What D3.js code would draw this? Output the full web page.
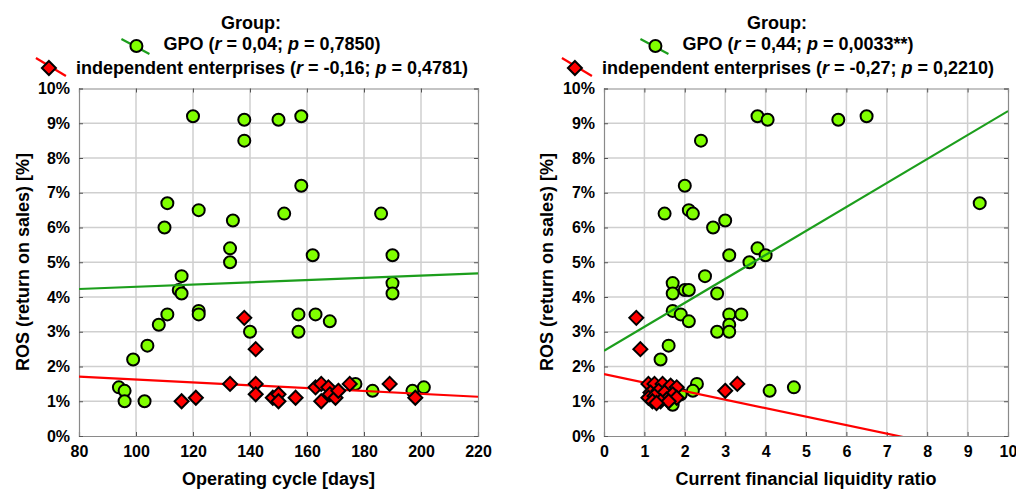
<!DOCTYPE html>
<html>
<head>
<meta charset="utf-8">
<script src="https://cdn.jsdelivr.net/npm/d3@7/dist/d3.min.js"></script>
<style>
  body { margin: 0; background: #fff; }
  svg text { font-family: "Liberation Sans", Arial, sans-serif; font-weight: bold; fill: #000; }
</style>
</head>
<body>
<div id="chart"></div>
<script>
// left panel: operating cycle [days] vs ROS [%]
const gpoCycle = [120, 138, 150, 158, 138, 158, 111, 122, 152, 110, 134, 186, 133, 133, 162, 190, 190, 190,
  116, 115, 116, 122, 122, 111, 108, 140, 157, 157, 163, 168, 104, 99, 94, 96, 96, 103, 177, 183, 197, 201];
const gpoCycleRos = [9.2, 9.1, 9.1, 9.2, 8.5, 7.2, 6.7, 6.5, 6.4, 6.0, 6.2, 6.4, 5.4, 5.0, 5.2, 5.2, 4.4, 4.1,
  4.6, 4.2, 4.1, 3.6, 3.5, 3.5, 3.2, 3.0, 3.5, 3.0, 3.5, 3.3, 2.6, 2.2, 1.4, 1.3, 1.0, 1.0, 1.5, 1.3, 1.3, 1.4];
const indCycle = [116, 121, 138, 142, 133, 142, 142, 148, 150, 150, 156, 163, 165, 165, 167.5, 168, 170, 171, 175, 189, 198];
const indCycleRos = [1.0, 1.1, 3.4, 2.5, 1.5, 1.5, 1.2, 1.1, 1.2, 1.0, 1.1, 1.4, 1.5, 1.0, 1.4, 1.2, 1.1, 1.3, 1.5, 1.5, 1.1];

// right panel: current financial liquidity ratio vs ROS [%]
const gpoLiq = [3.8, 4.05, 5.8, 6.5, 2.4, 2.0, 1.5, 2.1, 2.2, 3.0, 2.7, 9.3, 3.1, 3.8, 4.0, 3.6, 2.5, 1.7, 1.7, 2.0,
  2.1, 2.8, 1.7, 1.9, 2.1, 3.1, 3.4, 3.1, 3.1, 2.8, 1.6, 1.4, 2.3, 2.2, 4.1, 4.7, 1.7, 1.8, 1.5, 1.9];
const gpoLiqRos = [9.2, 9.1, 9.1, 9.2, 8.5, 7.2, 6.4, 6.5, 6.4, 6.2, 6.0, 6.7, 5.2, 5.4, 5.2, 5.0, 4.6, 4.4, 4.1, 4.2,
  4.2, 4.1, 3.6, 3.5, 3.3, 3.5, 3.5, 3.2, 3.0, 3.0, 2.6, 2.2, 1.5, 1.3, 1.3, 1.4, 0.9, 1.3, 1.4, 1.2];
const indLiq = [0.8, 0.9, 3.0, 3.3, 1.1, 1.25, 1.45, 1.65, 1.8, 1.15, 1.35, 1.5, 1.7, 1.1, 1.25, 1.55, 1.8, 1.2, 1.4, 1.6, 1.3];
const indLiqRos = [3.4, 2.5, 1.3, 1.5, 1.5, 1.5, 1.5, 1.45, 1.4, 1.25, 1.3, 1.25, 1.2, 1.1, 1.15, 1.05, 1.1, 1.0, 1.0, 1.0, 0.95];

// fitted lines [intercept, slope]
const fitCycleGpo = [3.973, 0.003214];
const fitCycleInd = [2.041, -0.004143];
const fitLiqGpo = [2.45, 0.69];
const fitLiqInd = [1.78, -0.2445];

const rosTicks = [0, 1, 2, 3, 4, 5, 6, 7, 8, 9, 10];
const cycleTicks = [80, 100, 120, 140, 160, 180, 200, 220];
const liqTicks = [0, 1, 2, 3, 4, 5, 6, 7, 8, 9, 10];

const legendGpoCycle = ["GPO (", "r", " = 0,04; ", "p", " = 0,7850)"];
const legendIndCycle = ["independent enterprises (", "r", " = -0,16; ", "p", " = 0,4781)"];
const legendGpoLiq = ["GPO (", "r", " = 0,44; ", "p", " = 0,0033**)"];
const legendIndLiq = ["independent enterprises (", "r", " = -0,27; ", "p", " = 0,2210)"];

const GREEN_FILL = "#80ff00", GREEN_LINE = "#1c9e1c", RED = "#ff0000";
const TITLE_SIZE = 18;

const svg = d3.select("#chart").append("svg")
  .attr("width", 1016).attr("height", 489);

function diamondPath(s) {
  return `M0,${-s}L${s},0L0,${s}L${-s},0Z`;
}

function drawPanel(cfg) {
  const x = d3.scaleLinear().domain(cfg.xDomain).range([cfg.left, cfg.right]);
  const y = d3.scaleLinear().domain([0, 10]).range([436, 88.5]);
  const g = svg.append("g");

  const clipId = "clip" + cfg.id;
  g.append("clipPath").attr("id", clipId).append("rect")
    .attr("x", cfg.left).attr("y", 88.5).attr("width", cfg.right - cfg.left).attr("height", 436 - 88.5);

  // grid
  g.append("g").selectAll("line").data(cfg.xTicks.slice(1, -1)).join("line")
    .attr("x1", d => x(d)).attr("x2", d => x(d)).attr("y1", 88.5).attr("y2", 436)
    .attr("stroke", "#cfcfcf").attr("stroke-width", 1.5);
  g.append("g").selectAll("line").data(rosTicks.slice(1, -1)).join("line")
    .attr("y1", d => y(d)).attr("y2", d => y(d)).attr("x1", cfg.left).attr("x2", cfg.right)
    .attr("stroke", "#cfcfcf").attr("stroke-width", 1.5);

  // axes (ticks inward on all sides)
  const fmtPct = d => d + "%";
  g.append("g").attr("transform", `translate(0,436)`)
    .call(d3.axisBottom(x).tickValues(cfg.xTicks).tickSize(-4).tickPadding(10))
    .call(a => a.selectAll("text").attr("font-size", 16));
  g.append("g").attr("transform", `translate(0,88.5)`)
    .call(d3.axisTop(x).tickValues(cfg.xTicks).tickSize(-4).tickFormat(""));
  g.append("g").attr("transform", `translate(${cfg.left},0)`)
    .call(d3.axisLeft(y).tickValues(rosTicks).tickSize(-4).tickPadding(9).tickFormat(fmtPct))
    .call(a => a.selectAll("text").attr("font-size", 16));
  g.append("g").attr("transform", `translate(${cfg.right},0)`)
    .call(d3.axisRight(y).tickValues(rosTicks).tickSize(-4).tickFormat(""));
  g.selectAll(".domain").attr("stroke", "#8a8a8a").attr("stroke-width", 1.2);
  g.selectAll(".tick line").attr("stroke", "#555");
  g.selectAll(".tick text").attr("fill", "#000").attr("font-family", "Liberation Sans, Arial, sans-serif").attr("font-weight", "bold");

  // points
  const gpo = cfg.gx.map((v, i) => ({ x: v, y: cfg.gy[i] }));
  const ind = cfg.ix.map((v, i) => ({ x: v, y: cfg.iy[i] }));

  g.append("g").selectAll("circle").data(gpo).join("circle")
    .attr("cx", d => x(d.x)).attr("cy", d => y(d.y)).attr("r", 6)
    .attr("fill", GREEN_FILL).attr("stroke", "#000").attr("stroke-width", 2);

  // fit lines
  const lines = g.append("g").attr("clip-path", `url(#${clipId})`);
  [[cfg.fitG, GREEN_LINE], [cfg.fitI, RED]].forEach(([f, col]) => {
    lines.append("line")
      .attr("x1", x(cfg.xDomain[0])).attr("y1", y(f[0] + f[1] * cfg.xDomain[0]))
      .attr("x2", x(cfg.xDomain[1])).attr("y2", y(f[0] + f[1] * cfg.xDomain[1]))
      .attr("stroke", col).attr("stroke-width", 2.2);
  });

  g.append("g").selectAll("path").data(ind).join("path")
    .attr("transform", d => `translate(${x(d.x)},${y(d.y)})`)
    .attr("d", diamondPath(7))
    .attr("fill", RED).attr("stroke", "#000").attr("stroke-width", 2).attr("stroke-linejoin", "miter");

  // axis titles
  g.append("text").attr("x", (cfg.left + cfg.right) / 2).attr("y", 485)
    .attr("text-anchor", "middle").attr("font-size", TITLE_SIZE).text(cfg.xTitle);
  g.append("text").attr("transform", `translate(${cfg.yTitleX},262) rotate(-90)`)
    .attr("text-anchor", "middle").attr("font-size", TITLE_SIZE).text("ROS (return on sales) [%]");

  // legend
  const cx = cfg.legendCx;
  g.append("text").attr("x", cx).attr("y", 29).attr("text-anchor", "middle")
    .attr("font-size", TITLE_SIZE).text("Group:");
  legendRow(g, cx, 50, cfg.legG, "gpo");
  legendRow(g, cx, 74, cfg.legI, "ind");
}

function legendRow(g, cx, baseline, parts, kind) {
  const row = g.append("g");
  const sym = row.append("g");
  const t = row.append("text").attr("x", 27).attr("y", 0).attr("font-size", TITLE_SIZE);
  parts.forEach((p, i) => {
    t.append("tspan").text(p).attr("font-style", (i === 1 || i === 3) ? "italic" : "normal");
  });
  if (kind === "gpo") {
    sym.append("line").attr("x1", -15).attr("y1", -11).attr("x2", 13).attr("y2", 4)
      .attr("stroke", GREEN_LINE).attr("stroke-width", 2.2);
    sym.append("circle").attr("cx", 0).attr("cy", -4).attr("r", 6)
      .attr("fill", GREEN_FILL).attr("stroke", "#000").attr("stroke-width", 2);
  } else {
    sym.append("line").attr("x1", -13).attr("y1", -16).attr("x2", 17).attr("y2", 2)
      .attr("stroke", RED).attr("stroke-width", 2.2);
    sym.append("path").attr("transform", "translate(0,-6)").attr("d", diamondPath(7))
      .attr("fill", RED).attr("stroke", "#000").attr("stroke-width", 2);
  }
  const w = t.node().getComputedTextLength();
  const left = -15, right = 27 + w;
  row.attr("transform", `translate(${cx - (left + right) / 2},${baseline})`);
}

drawPanel({
  id: "L", left: 79, right: 478, xDomain: [80, 220], xTicks: cycleTicks,
  gx: gpoCycle, gy: gpoCycleRos, ix: indCycle, iy: indCycleRos,
  fitG: fitCycleGpo, fitI: fitCycleInd,
  xTitle: "Operating cycle [days]", yTitleX: 29, legendCx: 251,
  legG: legendGpoCycle, legI: legendIndCycle
});
drawPanel({
  id: "R", left: 604, right: 1008, xDomain: [0, 10], xTicks: liqTicks,
  gx: gpoLiq, gy: gpoLiqRos, ix: indLiq, iy: indLiqRos,
  fitG: fitLiqGpo, fitI: fitLiqInd,
  xTitle: "Current financial liquidity ratio", yTitleX: 553, legendCx: 777,
  legG: legendGpoLiq, legI: legendIndLiq
});
</script>
</body>
</html>
